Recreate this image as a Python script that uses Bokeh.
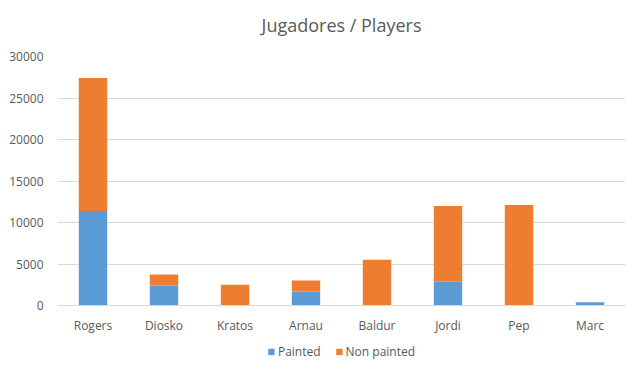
from bokeh.plotting import figure
from bokeh.layouts import column
from bokeh.models import (Legend, LegendItem, FactorRange, Range1d, SingleIntervalTicker,
                          NumeralTickFormatter, Title)
from bokeh.embed import file_html
from bokeh.resources import INLINE

players = ["Rogers", "Diosko", "Kratos", "Arnau", "Baldur", "Jordi", "Pep", "Marc"]
painted = [11400, 2400, 0, 1700, 0, 2900, 0, 380]
non_painted = [16000, 1320, 2500, 1300, 5500, 9100, 12100, 0]
series = ["Painted", "Non painted"]
colors = ["#5B9BD5", "#ED7D31"]
title_text = "Jugadores / Players"

FONT = "Open Sans"
GRAY = "#595959"

src = dict(players=players, Painted=painted)
src["Non painted"] = non_painted

p = figure(x_range=FactorRange(*players, range_padding=0), y_range=Range1d(0, 30000),
           frame_width=568, frame_height=249, output_backend="svg", toolbar_location=None,
           min_border_left=57, min_border_right=15, min_border_top=56, min_border_bottom=34)
p.vbar_stack(series, x="players", width=0.4, color=colors, line_color=None, source=src)

spacer = Title(text=" ", text_font_size="3px")
p.add_layout(spacer, "above")
ttl = Title(text=title_text, align="center", text_font=FONT, text_font_size="18px",
            text_font_style="normal", text_color=GRAY)
p.add_layout(ttl, "above")

p.yaxis.ticker = SingleIntervalTicker(interval=5000)
p.yaxis.formatter = NumeralTickFormatter(format="0")
p.yaxis.axis_line_color = None
p.yaxis.major_tick_line_color = None
p.yaxis.minor_tick_line_color = None
p.yaxis.major_label_text_font = FONT
p.yaxis.major_label_text_font_size = "12px"
p.yaxis.major_label_text_color = GRAY
p.yaxis.major_label_standoff = 8

p.xaxis.axis_line_color = "#D9D9D9"
p.xaxis.major_tick_line_color = None
p.xaxis.minor_tick_line_color = None
p.xaxis.major_label_text_font = FONT
p.xaxis.major_label_text_font_size = "12px"
p.xaxis.major_label_text_color = GRAY
p.xaxis.major_label_standoff = 5

p.xgrid.grid_line_color = None
p.ygrid.grid_line_color = "#D9D9D9"
p.outline_line_color = None

# legend strip below the chart (its renderers are hidden, only the legend shows)
lg = figure(width=640, height=24, x_range=FactorRange(*players), y_range=Range1d(-2, -1),
            x_axis_type=None, y_axis_type=None, output_backend="svg", toolbar_location=None,
            min_border=0)
lg.outline_line_color = None
lg.xgrid.grid_line_color = None
lg.ygrid.grid_line_color = None
rends = lg.vbar_stack(series, x="players", width=0.4, color=colors, line_color=None, source=src)
for rr in rends:
    rr.visible = False
legend = Legend(items=[LegendItem(label=s, renderers=[rr]) for s, rr in zip(series, rends)],
                orientation="horizontal", location="center")
legend.label_text_font = FONT
legend.label_text_font_size = "12px"
legend.label_text_color = GRAY
legend.label_height = 12
legend.glyph_width = 8
legend.glyph_height = 8
legend.label_standoff = 3
legend.spacing = 14
legend.padding = 2
legend.margin = 0
legend.border_line_color = None
legend.background_fill_alpha = 0
legend.inactive_fill_alpha = 0
lg.add_layout(legend, "center")

layout = column(p, lg, spacing=0)
open("out.html", "w").write(file_html(layout, INLINE))
